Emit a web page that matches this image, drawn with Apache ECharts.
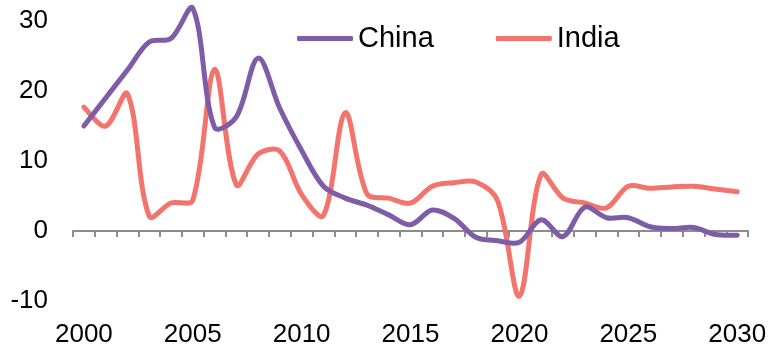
<!DOCTYPE html>
<html>
<head>
<meta charset="utf-8">
<script src="https://cdn.jsdelivr.net/npm/echarts@6/dist/echarts.min.js"></script>
<style>
  html, body { margin: 0; padding: 0; background: #fff; }
  #chart { width: 769px; height: 348px; }
</style>
</head>
<body>
<div id="chart"></div>
<script>
// Years on the horizontal axis
const years = [];
for (let y = 2000; y <= 2030; y++) years.push(String(y));

// Annual values per country, 2000-2030
const china = [15.0, 19.0, 23.0, 27.0, 27.5, 31.8, 14.8, 16.3, 24.7, 17.5, 11.5, 6.4,
               4.7, 3.7, 2.3, 0.9, 3.0, 1.8, -0.9, -1.4, -1.6, 1.6, -0.8, 3.4,
               1.9, 1.9, 0.6, 0.35, 0.5, -0.5, -0.6];
const india = [17.7, 15.0, 19.6, 2.1, 4.0, 4.4, 23.1, 6.6, 11.0, 11.4, 5.2, 2.2,
               16.9, 5.3, 4.7, 4.0, 6.4, 6.9, 7.0, 4.3, -9.3, 8.1, 4.7, 4.0,
               3.3, 6.4, 6.1, 6.3, 6.4, 6.0, 5.6];

// Value axis ticks
const yMin = -10, yMax = 30, yStep = 10;

const FONT = 'Liberation Sans, Arial, sans-serif';
const PURPLE = '#7f5ca8';
const SALMON = '#f2746c';

// Smoothed line through the points: cubic Béziers whose tangents follow the
// neighbouring points, shortened on the side of the shorter segment.
// Points are placed by the chart's own axes via api.coord.
function smoothSeries(name, values, color, z) {
  const s = 1 / 3;
  const dist = (a, b) => Math.hypot(b[0] - a[0], b[1] - a[1]);
  return {
    name: name,
    type: 'custom',
    coordinateSystem: 'cartesian2d',
    xAxisIndex: 0,
    yAxisIndex: 0,
    z: z,
    itemStyle: { color: color },
    data: values.map((v, i) => [i, v]),
    renderItem: function (params, api) {
      if (params.dataIndex !== 0) return null;
      const p = values.map((v, i) => api.coord([i, v]));
      const n = p.length;
      let d = 'M' + p[0][0] + ' ' + p[0][1];
      for (let i = 0; i < n - 1; i++) {
        const p0 = p[Math.max(i - 1, 0)];
        const p1 = p[i];
        const p2 = p[i + 1];
        const p3 = p[Math.min(i + 2, n - 1)];
        const d01 = dist(p0, p1), d12 = dist(p1, p2), d23 = dist(p2, p3);
        const f1 = i === 0 ? 0.5 : d12 / (d01 + d12);
        const f2 = i === n - 2 ? 0.5 : d12 / (d12 + d23);
        const c1x = p1[0] + (p2[0] - p0[0]) * s * f1;
        const c1y = p1[1] + (p2[1] - p0[1]) * s * f1;
        const c2x = p2[0] - (p3[0] - p1[0]) * s * f2;
        const c2y = p2[1] - (p3[1] - p1[1]) * s * f2;
        d += ' C' + c1x + ' ' + c1y + ' ' + c2x + ' ' + c2y + ' ' + p2[0] + ' ' + p2[1];
      }
      return {
        type: 'path',
        shape: { pathData: d },
        style: { fill: 'none', stroke: color, lineWidth: 5, lineCap: 'round', lineJoin: 'round' },
        silent: true
      };
    }
  };
}

const chart = echarts.init(document.getElementById('chart'), null, { renderer: 'canvas' });
chart.setOption({
  animation: false,
  backgroundColor: '#ffffff',
  grid: { left: 73, right: 14, top: 21, bottom: 46, containLabel: false },
  legend: {
    left: 292,
    top: 19,
    itemGap: 62,
    itemWidth: 56,
    itemHeight: 5,
    icon: 'roundRect',
    textStyle: { fontFamily: FONT, fontSize: 29, color: '#000' },
    data: [
      { name: 'China', itemStyle: { color: PURPLE } },
      { name: 'India', itemStyle: { color: SALMON } }
    ]
  },
  xAxis: [
    {
      // year labels along the bottom edge
      type: 'category',
      data: years,
      position: 'bottom',
      boundaryGap: true,
      axisLine: { show: false, onZero: false },
      axisTick: { show: false },
      axisLabel: {
        interval: 4,
        margin: 21,
        fontFamily: FONT,
        fontSize: 26,
        color: '#000'
      },
      splitLine: { show: false }
    },
    {
      // baseline with ticks drawn at zero
      type: 'category',
      data: years,
      position: 'bottom',
      boundaryGap: true,
      axisLine: { show: true, onZero: true, lineStyle: { color: '#8c8c8c', width: 2 } },
      axisTick: { show: true, interval: 0, length: 6, lineStyle: { color: '#8c8c8c', width: 2 } },
      axisLabel: { show: false },
      splitLine: { show: false }
    }
  ],
  yAxis: {
    type: 'value',
    min: yMin,
    max: yMax,
    interval: yStep,
    axisLine: { show: false },
    axisTick: { show: false },
    splitLine: { show: false },
    axisLabel: {
      margin: 25,
      padding: [3, 0, 0, 0],
      fontFamily: FONT,
      fontSize: 26,
      color: '#000'
    }
  },
  series: [
    smoothSeries('China', china, PURPLE, 3),
    smoothSeries('India', india, SALMON, 2)
  ]
});
</script>
</body>
</html>
